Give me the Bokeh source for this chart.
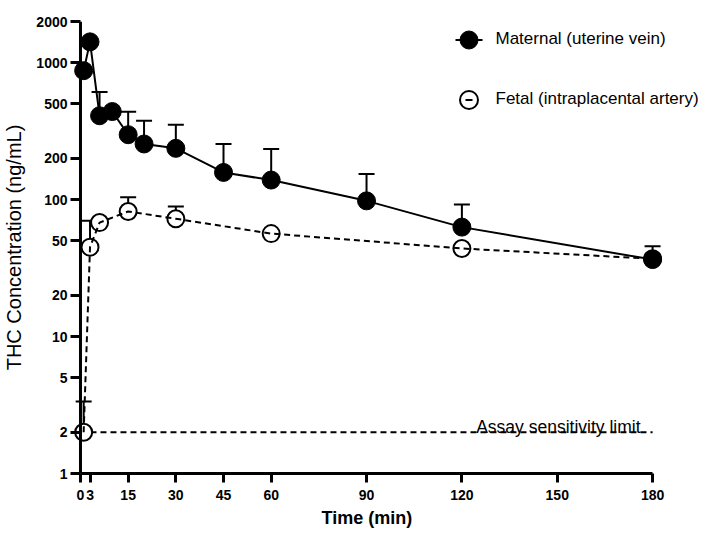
from bokeh.plotting import figure
from bokeh.models import (ColumnDataSource, Whisker, TeeHead, Label, Legend, LegendItem,
                          FixedTicker, NumeralTickFormatter, Range1d, Span, Title)
from bokeh.embed import file_html
from bokeh.resources import INLINE

# ---- data: THC concentration (ng/mL) over time (min) ----
maternal_time = [1, 3, 6, 10, 15, 20, 30, 45, 60, 90, 120, 180]
maternal_mean = [875, 1420, 410, 440, 298, 255, 237, 158, 139, 98, 63, 36.5]
maternal_upper = [None, None, 610, None, 439, 377, 353, 255, 234, 154, 92, 45.6]

fetal_time = [1, 3, 6, 15, 30, 60, 120, 180]
fetal_mean = [2, 45, 68, 82, 72.5, 56.5, 44, 37]
fetal_upper = [3.35, 70, None, 104, 89, None, None, None]

assay_limit = 2

x_ticks = [0, 3, 15, 30, 45, 60, 90, 120, 150, 180]
x_tick_labels = ["0", "3", "15", "30", "45", "60", "90", "120", "150", "180"]
y_ticks = [1, 2, 5, 10, 20, 50, 100, 200, 500, 1000, 2000]
y_tick_labels = ["1", "2", "5", "10", "20", "50", "100", "200", "500", "1000", "2000"]

FONT = "Liberation Sans"

# ---- geometry (pixels) ----
W, H = 712, 533
LEFT, RIGHT, TOP, BOTTOM = 69, 0, 21, 60
FRAME_W = W - LEFT - RIGHT
FRAME_H = H - TOP - BOTTOM
PAD_L, PAD_R = 10, 60            # room for edge markers and the legend text
ppm = (FRAME_W - PAD_L - PAD_R) / (x_ticks[-1] - x_ticks[0])

p = figure(width=W, height=H,
           x_range=Range1d(x_ticks[0] - PAD_L / ppm, x_ticks[-1] + PAD_R / ppm),
           y_range=Range1d(y_ticks[0], y_ticks[-1]), y_axis_type="log",
           output_backend="svg", toolbar_location=None,
           min_border_left=LEFT, min_border_right=RIGHT,
           min_border_top=TOP, min_border_bottom=BOTTOM)
p.xgrid.visible = False
p.ygrid.visible = False
p.outline_line_color = None
p.background_fill_color = "white"

# ---- x axis ----
xa = p.xaxis[0]
xa.ticker = FixedTicker(ticks=x_ticks)
xa.bounds = (x_ticks[0], x_ticks[-1])
xa.major_label_overrides = dict(zip(x_ticks, x_tick_labels))
xa.axis_line_width = 3
xa.major_tick_line_width = 3
xa.major_tick_out = 9
xa.major_tick_in = 0
xa.minor_tick_out = 0
xa.minor_tick_in = 0
xa.major_label_standoff = 7
xa.major_label_text_font = FONT
xa.major_label_text_font_style = "bold"
xa.major_label_text_font_size = "14px"
xa.major_label_text_color = "black"

# x-axis title, centred under the 0-180 span of the axis
x_title_text = "Time (min)"
x_title_px = 18
x_title_w = 5.056 * x_title_px
p.add_layout(Title(text=x_title_text, align="left",
                   offset=PAD_L + 0.5 * (FRAME_W - PAD_L - PAD_R) - 0.5 * x_title_w,
                   standoff=6, text_font=FONT, text_font_style="bold",
                   text_font_size=f"{x_title_px}px", text_color="black"), "below")

# ---- y axis (line drawn at t = 0, ticks pointing in to meet it) ----
ya = p.yaxis[0]
ya.ticker = FixedTicker(ticks=y_ticks)
ya.formatter = NumeralTickFormatter(format="0")
ya.major_label_overrides = dict(zip(y_ticks, y_tick_labels))
ya.axis_line_color = None
ya.major_tick_line_width = 3
ya.major_tick_in = PAD_L
ya.major_tick_out = 0
ya.minor_tick_in = 0
ya.minor_tick_out = 0
ya.major_label_standoff = 3
ya.major_label_text_font = FONT
ya.major_label_text_font_style = "bold"
ya.major_label_text_font_size = "14px"
ya.major_label_text_color = "black"
ya.axis_label = "THC Concentration (ng/mL)"
ya.axis_label_text_font = FONT
ya.axis_label_text_font_style = "normal"
ya.axis_label_text_font_size = "20px"
ya.axis_label_text_color = "black"
ya.axis_label_standoff = 8

p.add_layout(Span(location=x_ticks[0], dimension="height", line_color="black", line_width=3))

# ---- error bars (upper SD only) ----
def whisker_source(times, means, uppers):
    rows = [(t, m, u) for t, m, u in zip(times, means, uppers) if u is not None]
    return ColumnDataSource(dict(t=[r[0] for r in rows], v=[r[1] for r in rows], hi=[r[2] for r in rows]))

for src in (whisker_source(maternal_time, maternal_mean, maternal_upper),
            whisker_source(fetal_time, fetal_mean, fetal_upper)):
    p.add_layout(Whisker(source=src, base="t", lower="v", upper="hi", dimension="height",
                         line_color="black", line_width=2, level="underlay",
                         upper_head=TeeHead(size=16, line_width=2, line_color="black"),
                         lower_head=None))

# ---- assay sensitivity limit ----
p.segment(x0=x_ticks[0], y0=assay_limit, x1=x_ticks[-1], y1=assay_limit,
          line_color="black", line_width=2, line_dash="6 4")
p.add_layout(Label(x=124.5, y=assay_limit, y_offset=5, text="Assay sensitivity limit",
                   text_baseline="alphabetic", text_align="left", text_font=FONT,
                   text_font_size="17.5px", text_color="black"))

# ---- series ----
fet_src = ColumnDataSource(dict(t=fetal_time, v=fetal_mean))
mat_src = ColumnDataSource(dict(t=maternal_time, v=maternal_mean))

fet_pts = p.scatter("t", "v", source=fet_src, marker="circle", size=17,
                    fill_color="white", line_color="black", line_width=2)
p.line("t", "v", source=fet_src, line_color="black", line_width=2, line_dash="6 4")
mat_pts = p.scatter("t", "v", source=mat_src, marker="circle", size=18,
                    fill_color="black", line_color="black", line_width=1)
p.line("t", "v", source=mat_src, line_color="black", line_width=2)

# legend-only line samples (short stub / centre dash); a single point draws no line
leg_m = p.line(x=maternal_time[:1], y=maternal_mean[:1], line_color="black",
               line_width=2, line_dash="0 9 27 9")
leg_f = p.line(x=fetal_time[:1], y=fetal_mean[:1], line_color="black",
               line_width=2, line_dash="0 19 7 19")

GLYPH = 45
legend_top = 16.5
legend_h = GLYPH * 2 + 15
legend = Legend(items=[LegendItem(label="Maternal (uterine vein)", renderers=[leg_m, mat_pts]),
                       LegendItem(label="Fetal (intraplacental artery)", renderers=[fet_pts, leg_f])],
                location=(444.5 - LEFT, FRAME_H - (legend_top - TOP) - legend_h),
                glyph_width=GLYPH, glyph_height=GLYPH, label_standoff=5, spacing=15,
                padding=0, margin=0, border_line_color=None, background_fill_alpha=0,
                label_text_font=FONT, label_text_font_size="17px", label_text_color="black")
p.add_layout(legend)

open("out.html", "w").write(file_html(p, INLINE))
